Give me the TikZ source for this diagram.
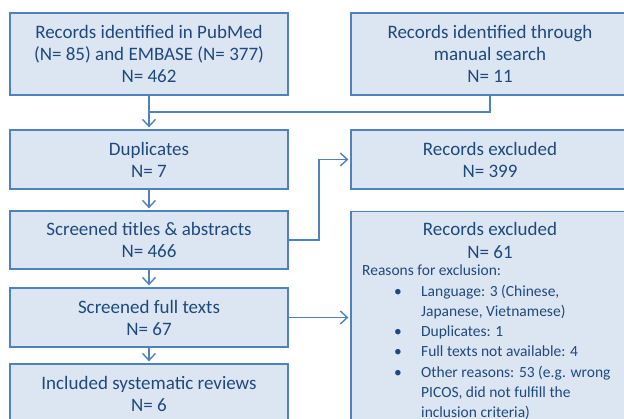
\documentclass[tikz,border=0pt]{standalone}
\usepackage{fontspec}
\setmainfont{Carlito}
\usetikzlibrary{arrows.meta}
\definecolor{boxfill}{HTML}{DCE6F2}
\definecolor{boxline}{HTML}{4F81BD}
\definecolor{txt}{HTML}{1F497D}
\begin{document}
\begin{tikzpicture}[x=1pt,y=-1pt,
  box/.style={draw=boxline,fill=boxfill,line width=1.3pt,minimum width=278pt,inner sep=0pt,text=txt,font=\fontsize{19}{22}\selectfont,align=center},
  lbl/.style={text=txt,inner sep=0pt},
  arr/.style={draw=boxline,line width=1.4pt,shorten >=2pt,-{Straight Barb[length=7pt,width=13pt]}},
  ln/.style={draw=boxline,line width=1.4pt}]
\useasboundingbox (0,0) rectangle (624,418);
\clip (0,0) rectangle (624,418);
\node[box,minimum height=82pt] (pub) at (149,54) {Records identified in PubMed\\(N= 85) and EMBASE (N= 377)\\N= 462};
\node[box,minimum height=82pt] (man) at (490,54) {Records identified through\\manual search\\N= 11};
\node[box,minimum height=59pt] (dup) at (149,159.5) {Duplicates\\N= 7};
\node[box,minimum height=59pt] (ex1) at (490,159.5) {Records excluded\\N= 399};
\node[box,minimum height=58pt] (scr) at (149,240) {Screened titles \& abstracts\\N= 466};
\node[box,minimum height=230pt,anchor=north] (ex2) at (490,211) {};
\node[lbl,font=\fontsize{19}{23}\selectfont,align=center] (ex2t) at (490,240.5) {Records excluded\\N= 61};
\node[lbl,font=\fontsize{15.5}{20.2}\selectfont,anchor=west] (why) at (362,270) {Reasons for exclusion:};
\node[lbl,font=\fontsize{15.5}{20.2}\selectfont,anchor=north west] (list) at (394,282) {%
\begin{tabular}{@{}p{27pt}@{}l@{}}
\textbullet & Language: 3 (Chinese,\\
 & Japanese, Vietnamese)\\
\textbullet & Duplicates: 1\\
\textbullet & Full texts not available: 4\\
\textbullet & Other reasons: 53 (e.g. wrong\\
 & PICOS, did not fulfill the\\
 & inclusion criteria)
\end{tabular}};
\node[box,minimum height=59pt] (full) at (149,317.5) {Screened full texts\\N= 67};
\node[box,minimum height=60pt] (inc) at (149,394) {Included systematic reviews\\N= 6};
\coordinate (j) at (149,112);
\coordinate (k) at (319,0);
\draw[arr] (pub.south) -- (dup.north);
\draw[ln] (man.south) |- (j);
\draw[arr] (dup.south) -- (scr.north);
\draw[arr] (scr.east) -- (scr.east -| k) |- (ex1.west);
\draw[arr] (scr.south) -- (full.north);
\draw[arr] (full.east) -- (full.east -| ex2.west);
\draw[arr] (full.south) -- (inc.north);
\end{tikzpicture}
\end{document}
